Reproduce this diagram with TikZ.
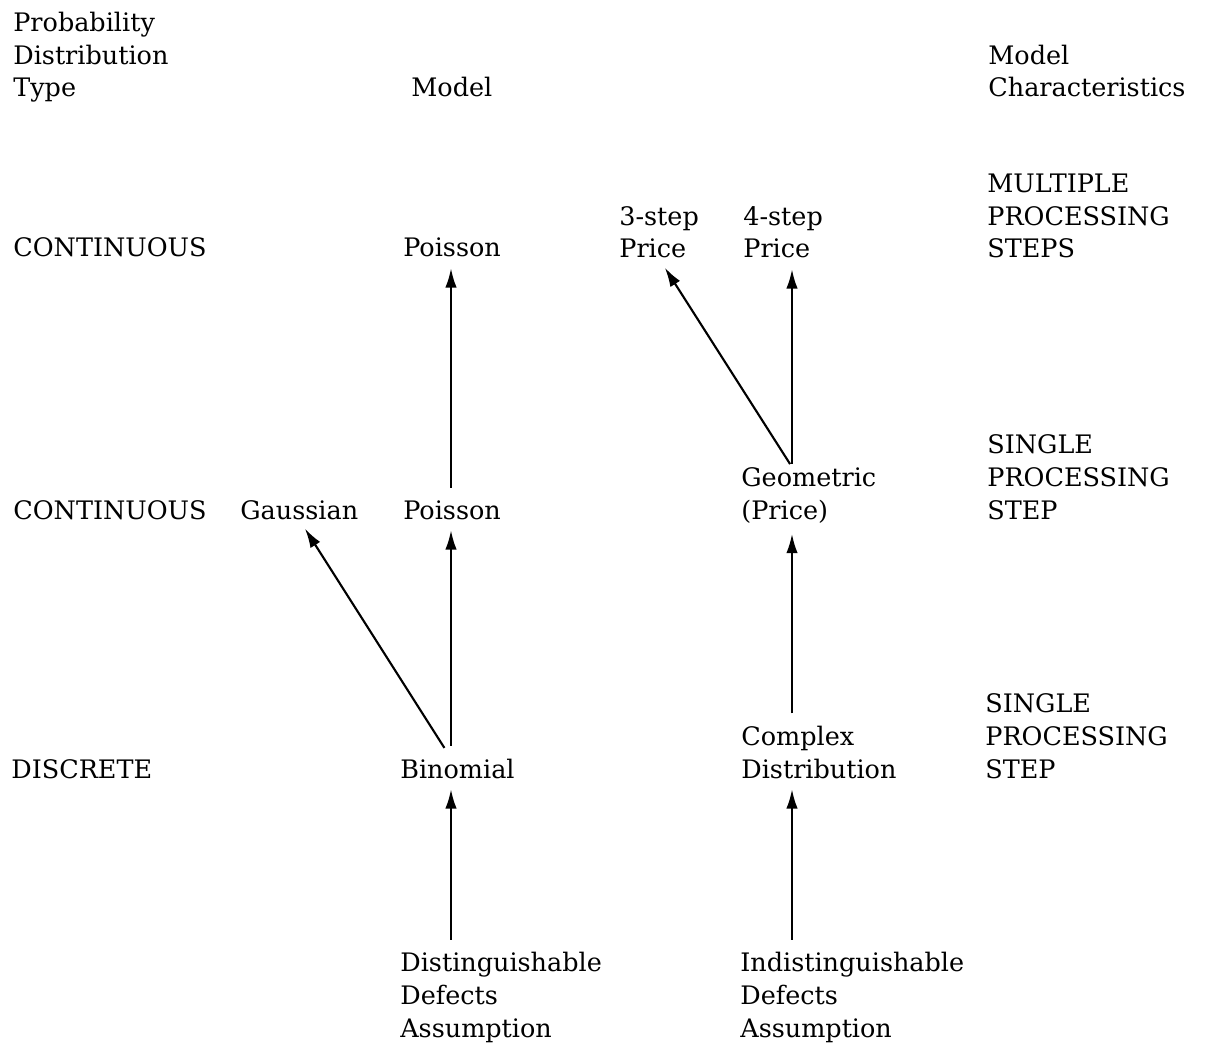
\documentclass[tikz,border=0pt]{standalone}
\usepackage{fontspec}
\setmainfont{DejaVu Serif}
\usetikzlibrary{arrows.meta,positioning}

\tikzset{
  txt/.style={anchor=base west, inner sep=0pt, align=left, font=\fontsize{14.5}{18.6}\selectfont},
  arr/.style={-{Latex[length=11pt,width=6.5pt]}, line width=1.2pt, shorten <=7pt, shorten >=6pt}
}

\begin{document}
\begin{tikzpicture}[x=0.02cm,y=-0.02cm]
\useasboundingbox (0,0) rectangle (1207,1047);
\coordinate (colA) at (451,0);
\coordinate (colB) at (792,0);

% column heads (base = last line)
\node[txt](ptype) at (13,97) {Probability\\Distribution\\Type};
\node[txt](modelhd) at (411,97) {Model};
\node[txt](charhd) at (988,97) {Model\\Characteristics};

% top row
\node[txt](contA) at (13,257) {CONTINUOUS};
\node[txt](poisA) at (403,257) {Poisson};
\node[txt](three) at (619,258) {3-step\\Price};
\node[txt](four) at (743,258) {4-step\\Price};
\node[txt](multi) at (987,258) {MULTIPLE\\PROCESSING\\STEPS};

% middle row
\node[txt](contB) at (13,519) {CONTINUOUS};
\node[txt](gauss) at (240,519) {Gaussian};
\node[txt](poisB) at (403,519) {Poisson};
\node[txt](geom) at (741,519) {Geometric\\(Price)};
\node[txt](singleA) at (987,519) {SINGLE\\PROCESSING\\STEP};

% bottom row
\node[txt](disc) at (11,778) {DISCRETE};
\node[txt](binom) at (400,778) {Binomial};
\node[txt](complex) at (741,778) {Complex\\Distribution};
\node[txt](singleB) at (985,778) {SINGLE\\PROCESSING\\STEP};

% assumptions
\node[txt](dist) at (400,1037) {Distinguishable\\Defects\\Assumption};
\node[txt](indist) at (740,1037) {Indistinguishable\\Defects\\Assumption};

\draw[arr] (dist.north -| colA) to (binom.south -| colA);
\draw[arr] (binom.north -| colA) to (poisB.south -| colA);
\draw[arr] (binom.north -| colA) to (gauss.south);
\draw[arr] (poisB.north -| colA) to (poisA.south -| colA);
\draw[arr] (indist.north -| colB) to (complex.south -| colB);
\draw[arr] (complex.north -| colB) to (geom.south -| colB);
\draw[arr, shorten <=2pt] (geom.north -| colB) to (four.south -| colB);
\draw[arr, shorten <=2pt] (geom.north -| colB) to (three.south);
\end{tikzpicture}
\end{document}
